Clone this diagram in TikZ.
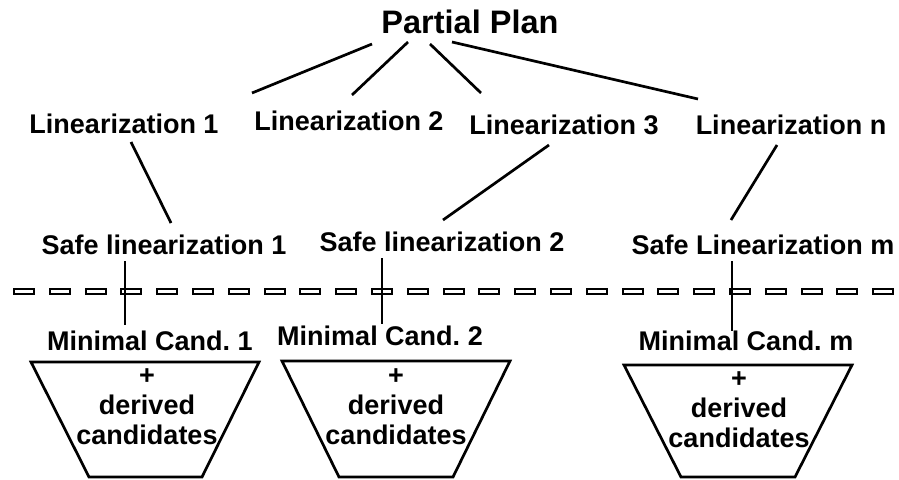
\documentclass[tikz,border=0pt]{standalone}
\usepackage{fontspec}
\setmainfont{Liberation Sans}
\frenchspacing
\tikzset{
  x=1pt, y=-1pt,
  lbl/.style={font=\fontsize{27}{30}\selectfont\bfseries, inner sep=0pt, anchor=base},
  title/.style={font=\fontsize{32.5}{36}\selectfont\bfseries, inner sep=0pt, anchor=base},
  conn/.style={line width=2.7pt},
  trap/.style={line width=2.7pt, line join=miter},
  dashbox/.style={line width=2.1pt},
  inner/.style={font=\fontsize{27}{30}\selectfont\bfseries, inner sep=0pt, align=center}
}
\begin{document}
\begin{tikzpicture}
\useasboundingbox (0,0) rectangle (899,479);
% texts
\node[title] (pp) at (470,33) {Partial Plan};
\node[lbl] (l1) at (124,133) {Linearization 1};
\node[lbl] (l2) at (349,130) {Linearization 2};
\node[lbl] (l3) at (564,134) {Linearization 3};
\node[lbl] (ln) at (791,134) {Linearization n};
\node[lbl] (s1) at (164,254) {Safe linearization 1};
\node[lbl] (s2) at (442,251) {Safe linearization 2};
\node[lbl] (sm) at (763,254) {Safe Linearization m};
\node[lbl] (m1) at (150,350) {Minimal Cand. 1};
\node[lbl] (m2) at (380,345) {Minimal Cand. 2};
\node[lbl] (mm) at (746,350) {Minimal Cand. m};
% connector endpoints
\coordinate (p1) at (372,44); \coordinate (q1) at (252,93);
\coordinate (p2) at (408,42); \coordinate (q2) at (352,95);
\coordinate (p3) at (430,44); \coordinate (q3) at (481,93);
\coordinate (p4) at (452,42); \coordinate (q4) at (698,99);
\draw[conn] (p1) -- (q1);
\draw[conn] (p2) -- (q2);
\draw[conn] (p3) -- (q3);
\draw[conn] (p4) -- (q4);
\coordinate (a1) at (131,142); \coordinate (b1) at (171,223);
\coordinate (a3) at (549,145); \coordinate (b3) at (443,220);
\coordinate (an) at (777,145); \coordinate (bn) at (731,220);
\draw[conn] (a1) -- (b1);
\draw[conn] (a3) -- (b3);
\draw[conn] (an) -- (bn);
% dashed separator
\foreach \k in {0,...,24} {
  \draw[dashbox] ({14+35.8*\k},289) rectangle ++(20,5);
}
% vertical connectors
\coordinate (v1a) at (125,261); \coordinate (v1b) at (125,325);
\coordinate (v2a) at (382,258); \coordinate (v2b) at (382,324);
\coordinate (vma) at (732,261); \coordinate (vmb) at (732,331);
\draw[conn] (v1a) -- (v1b);
\draw[conn] (v2a) -- (v2b);
\draw[conn] (vma) -- (vmb);
% trapezoids
\draw[trap] (31,362) -- (259,362) -- (202,477) -- (89,477) -- cycle;
\draw[trap] (282,361) -- (510,361) -- (453,477) -- (339,477) -- cycle;
\draw[trap] (624,365) -- (852,365) -- (795,477) -- (681,477) -- cycle;
\node[inner] (c1) at (147,407) {+\\derived\\candidates};
\node[inner] (c2) at (396,407) {+\\derived\\candidates};
\node[inner] (cm) at (739,410) {+\\derived\\candidates};
\end{tikzpicture}
\end{document}
